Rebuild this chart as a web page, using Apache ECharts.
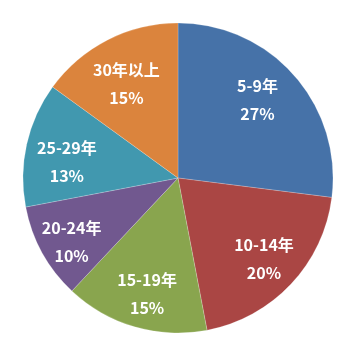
<!DOCTYPE html>
<html>
<head>
<meta charset="utf-8">
<script src="https://cdn.jsdelivr.net/npm/echarts@6/dist/echarts.min.js"></script>
<style>
  html, body { margin: 0; padding: 0; background: #fff; }
  #chart { width: 355px; height: 355px; }
</style>
</head>
<body>
<div id="chart"></div>
<script>
  // 工龄分布
  const categories = ['5-9年', '10-14年', '15-19年', '20-24年', '25-29年', '30年以上'];
  const values = [27, 20, 15, 10, 13, 15];
  const colors = ['#4672A8', '#AA4644', '#89A54E', '#71588F', '#4198AF', '#DB843D'];
  // 标签微调偏移 [dx, dy]，跟原图对齐
  const labelShift = [[-9, 0], [0, 0], [2, 3], [-3, 7], [4, 10], [2, 11]];

  const pieData = categories.map((name, i) => ({
    name: name,
    value: values[i],
    itemStyle: { color: colors[i] }
  }));

  let myChart = echarts.init(document.getElementById('chart'));
  let option = {
    animation: false,
    series: [
      {
        // 饼图本体
        type: 'pie',
        center: [178, 178],
        radius: [0, 155],
        startAngle: 90,
        clockwise: true,
        silent: true,
        label: { show: false },
        labelLine: { show: false },
        itemStyle: { borderColor: 'rgba(255,255,255,0.4)', borderWidth: 0.5 },
        data: pieData
      },
      {
        // 只用来放标签（透明环，中点半径约115）
        type: 'pie',
        center: [178, 178],
        radius: [88, 142],
        startAngle: 90,
        clockwise: true,
        silent: true,
        itemStyle: { color: 'transparent' },
        label: {
          show: true,
          position: 'inside',
          formatter: '{b}\n{c}%',
          color: '#fff',
          fontFamily: 'Noto Sans CJK SC',
          fontWeight: 'bold',
          fontSize: 16,
          lineHeight: 28
        },
        labelLayout: function (params) {
          let s = labelShift[params.dataIndex];
          return { dx: s[0], dy: s[1] };
        },
        labelLine: { show: false },
        data: categories.map((name, i) => ({ name: name, value: values[i] }))
      }
    ]
  };
  myChart.setOption(option);
</script>
</body>
</html>
